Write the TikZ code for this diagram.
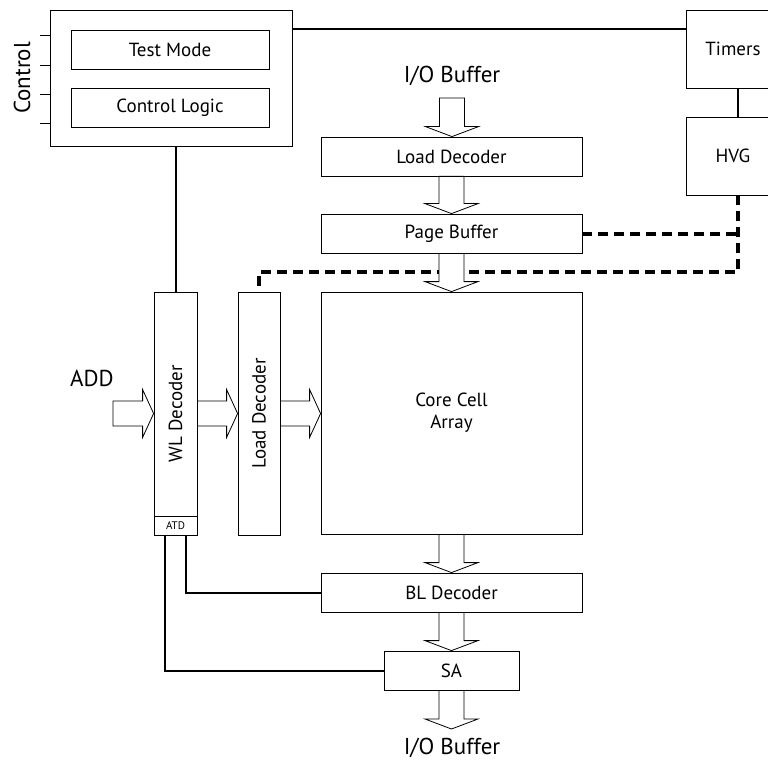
\documentclass[tikz,border=0pt]{standalone}
\usepackage{fontspec}
\setmainfont{PT Sans}
\usetikzlibrary{calc}

\tikzset{
  box/.style={draw, line width=0.8pt, fill=white, inner sep=0pt,
    font=\fontsize{19}{22}\selectfont},
  biglabel/.style={font=\fontsize{23}{26}\selectfont},
  wire/.style={line width=2pt},
  hvline/.style={line width=4pt, dash pattern=on 10pt off 6pt},
  blockarrow/.style={draw, fill=white, line width=0.8pt, line join=miter}
}

% wide hollow arrows, down and to the right
\newcommand{\blockdown}[2]{%
  \draw[blockarrow] let \p1=(#1), \p2=(#2) in
    (\x1-12.5pt,\y1) -- (\x1-12.5pt,\y2+10pt) -- (\x1-26.5pt,\y2+10pt) -- (\x1,\y2)
    -- (\x1+26.5pt,\y2+10pt) -- (\x1+12.5pt,\y2+10pt) -- (\x1+12.5pt,\y1) -- cycle;}
\newcommand{\blockright}[2]{%
  \draw[blockarrow] let \p1=(#1), \p2=(#2) in
    (\x1,\y1+12.5pt) -- (\x2-11pt,\y1+12.5pt) -- (\x2-11pt,\y1+24pt) -- (\x2,\y1)
    -- (\x2-11pt,\y1-24pt) -- (\x2-11pt,\y1-12.5pt) -- (\x1,\y1-12.5pt) -- cycle;}

\begin{document}
\begin{tikzpicture}[x=1pt, y=-1pt]
    \clip (0,0) rectangle (768,762);

    % control block
    \node[box, minimum width=242, minimum height=136] (ctrl) at (171,78) {};
    \node[box, minimum width=198, minimum height=39] (testmode) at (170,49.5) {Test Mode};
    \node[box, minimum width=198, minimum height=39] (ctrllogic) at (170,107.5) {Control Logic};
    \foreach \y in {35,65,94,123}
        \draw[line width=0.8pt] (40,\y) -- (ctrl.west |- 0,\y);
    \node[biglabel, rotate=90] (ctrllabel) at (22,78) {Control};

    \node[box, minimum width=94, minimum height=78] (timers) at (733,49) {Timers};
    \node[box, minimum width=94, minimum height=78] (hvg) at (733,156) {HVG};

    % main column
    \node[biglabel] (iotop) at (452,76) {I/O Buffer};
    \coordinate (iotopin) at (452,98);
    \node[box, minimum width=261, minimum height=39] (ldec) at (451.5,156.5) {Load Decoder};
    \node[box, minimum width=261, minimum height=39] (pbuf) at (451.5,233.5) {Page Buffer};
    \node[box, minimum width=261, minimum height=242, align=center] (core) at (451.5,413) {Core Cell\\Array};
    \node[box, minimum width=261, minimum height=39] (bldec) at (451.5,592.5) {BL Decoder};
    \node[box, minimum width=135, minimum height=39] (sa) at (451.5,670.5) {SA};
    \coordinate (ioout) at (452,729);
    \node[biglabel] (iobot) at (452,748) {I/O Buffer};

    % row decoders
    \node[box, minimum width=43, minimum height=243,
        label={[rotate=90, font=\fontsize{19}{22}\selectfont]center:WL Decoder}] (wldec) at (175.5,413.5) {};
    \node[box, minimum width=43, minimum height=19, font=\fontsize{11}{13}\selectfont] (atd) at (175.5,525.5) {ATD};
    \node[box, minimum width=42, minimum height=243,
        label={[rotate=90, font=\fontsize{19}{22}\selectfont]center:Load Decoder}] (lvdec) at (259,413.5) {};
    \node[biglabel] (add) at (92,378) {ADD};
    \coordinate (addin) at (113,413.5);

    % wires
    \draw[wire] ([yshift=-19pt]ctrl.north east) -- ([yshift=-19pt]timers.north west);
    \draw[wire] ([xshift=5pt]timers.south) -- ([xshift=5pt]hvg.north);
    \draw[wire] (wldec.north) -- (wldec.north |- ctrl.south);
    \draw[wire] ([xshift=-10.5pt]atd.south) |- (sa.west);
    \draw[wire] ([xshift=10.5pt]atd.south) |- (bldec.west);

    % high voltage lines
    \coordinate (hvcorner) at (738,272);
    \draw[hvline] ([xshift=5pt]hvg.south) -- (hvcorner) -| (lvdec.north);
    \draw[hvline] (pbuf.east) -- (pbuf.east -| hvcorner);

    % data flow
    \blockdown{iotopin}{ldec.north}
    \blockdown{ldec.south}{pbuf.north}
    \blockdown{pbuf.south}{core.north}
    \blockdown{core.south}{bldec.north}
    \blockdown{bldec.south}{sa.north}
    \blockdown{sa.south}{ioout}
    \blockright{addin}{wldec.west}
    \blockright{wldec.east}{lvdec.west}
    \blockright{lvdec.east}{core.west}
\end{tikzpicture}
\end{document}
